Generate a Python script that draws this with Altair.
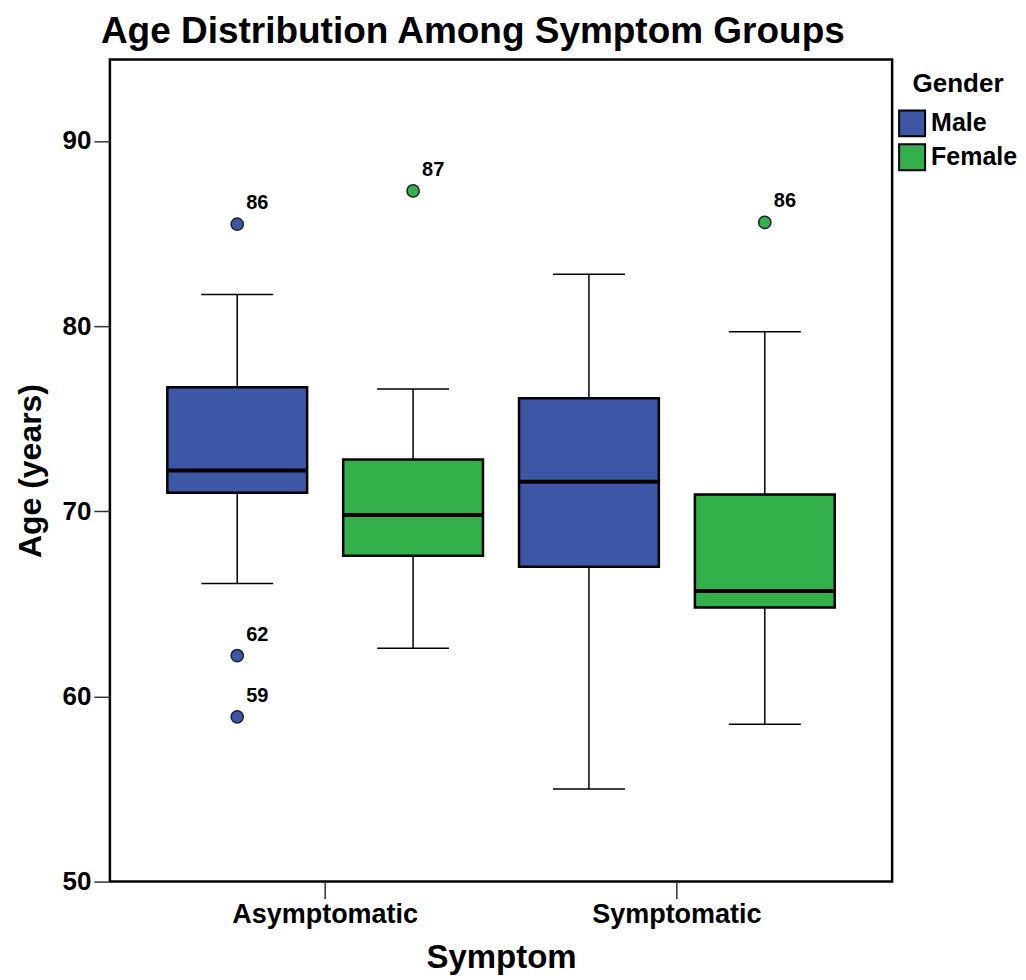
import altair as alt
import pandas as pd

# Box summary per group
symptom = ["Asymptomatic", "Asymptomatic", "Symptomatic", "Symptomatic"]
gender = ["Male", "Female", "Male", "Female"]
whisker_low = [66.1, 62.6, 55.0, 58.5]
q1 = [71.0, 67.6, 67.0, 64.8]
median = [72.2, 69.8, 71.6, 65.7]
q3 = [76.7, 72.8, 76.1, 70.9]
whisker_high = [81.7, 76.6, 82.8, 79.7]

# Outliers
out_symptom = ["Asymptomatic", "Asymptomatic", "Asymptomatic", "Asymptomatic", "Symptomatic"]
out_gender = ["Male", "Male", "Male", "Female", "Female"]
out_age = [85.5, 62.2, 58.9, 87.3, 85.6]
out_label = ["86", "62", "59", "87", "86"]

gender_order = ["Male", "Female"]
gender_colors = ["#3D56A6", "#33B04A"]

boxes = pd.DataFrame({
    "Symptom": symptom, "Gender": gender, "lo": whisker_low, "q1": q1,
    "median": median, "q3": q3, "hi": whisker_high,
})
outs = pd.DataFrame({
    "Symptom": out_symptom, "Gender": out_gender, "age": out_age, "label": out_label,
})

FONT = "Liberation Sans"

x_enc = alt.X(
    "Symptom:N",
    sort=["Asymptomatic", "Symptomatic"],
    scale=alt.Scale(paddingInner=0, paddingOuter=0.112),
    axis=alt.Axis(
        title="Symptom", labelAngle=0, labelFontSize=27, labelFontWeight="bold",
        labelColor="black", titleFontSize=33, titleFontWeight="bold", titleColor="black",
        tickSize=17, tickWidth=1.5, tickColor="#333", labelPadding=3, titlePadding=14,
        domain=False, grid=False, labelFont=FONT, titleFont=FONT, labelLimit=0,
    ),
)
xo_enc = alt.XOffset(
    "Gender:N", sort=gender_order,
    scale=alt.Scale(paddingInner=0.205, paddingOuter=0.1025),
)
y_scale = alt.Scale(domain=[50, 94.4], nice=False, zero=False)
y_axis = alt.Axis(
    title="Age (years)", values=[50, 60, 70, 80, 90], labelFontSize=26,
    labelFontWeight="bold", labelColor="black", titleFontSize=32, titleFontWeight="bold",
    titleColor="black", tickSize=16, tickWidth=1.5, tickColor="#333", labelPadding=3,
    titlePadding=15, domain=False, grid=False, labelFont=FONT, titleFont=FONT,
)
color_scale = alt.Scale(domain=gender_order, range=gender_colors)

base = alt.Chart(boxes)

upper = base.mark_rule(color="black", strokeWidth=1.5).encode(
    x=x_enc, xOffset=xo_enc,
    y=alt.Y("q3:Q", scale=y_scale, axis=y_axis), y2="hi:Q",
)
lower = base.mark_rule(color="black", strokeWidth=1.5).encode(
    x=x_enc, xOffset=xo_enc, y=alt.Y("lo:Q", scale=y_scale), y2="q1:Q",
)
cap_hi = base.mark_tick(color="black", thickness=1.5, size=72, opacity=1).encode(
    x=x_enc, xOffset=xo_enc, y=alt.Y("hi:Q", scale=y_scale),
)
cap_lo = base.mark_tick(color="black", thickness=1.5, size=72, opacity=1).encode(
    x=x_enc, xOffset=xo_enc, y=alt.Y("lo:Q", scale=y_scale),
)
box = base.mark_bar(stroke="black", strokeWidth=2.5, opacity=1).encode(
    x=x_enc, xOffset=xo_enc,
    y=alt.Y("q1:Q", scale=y_scale), y2="q3:Q",
    color=alt.Color(
        "Gender:N", scale=color_scale, sort=gender_order,
        legend=alt.Legend(
            title="Gender", orient="none", legendX=789, legendY=12,
            symbolType="square", symbolSize=676, symbolStrokeColor="black",
            symbolStrokeWidth=2, symbolOpacity=1, labelFontSize=25, labelFontWeight="bold",
            labelColor="black", titleFontSize=26, titleFontWeight="bold", titleColor="black",
            titleAnchor="middle", titlePadding=12, rowPadding=0, labelOffset=5,
            labelFont=FONT, titleFont=FONT,
        ),
    ),
)
med = base.mark_tick(color="black", thickness=4, size=140, opacity=1).encode(
    x=x_enc, xOffset=xo_enc, y=alt.Y("median:Q", scale=y_scale),
)

ochart = alt.Chart(outs)
pts = ochart.mark_circle(size=150, stroke="#1c2233", strokeWidth=1.5, opacity=1).encode(
    x=x_enc, xOffset=xo_enc, y=alt.Y("age:Q", scale=y_scale),
    color=alt.Color("Gender:N", scale=color_scale, legend=None),
)
lbl = ochart.mark_text(
    align="left", baseline="middle", dx=9, dy=-21, fontSize=20,
    fontWeight="bold", font=FONT, color="black",
).encode(
    x=x_enc, xOffset=xo_enc, y=alt.Y("age:Q", scale=y_scale), text="label:N",
)

chart = alt.layer(upper, lower, cap_hi, cap_lo, box, med, pts, lbl).properties(
    width=783, height=823,
    padding={"left": 6, "top": 5, "right": 0, "bottom": 0},
    title=alt.TitleParams(
        "Age Distribution Among Symptom Groups", anchor="start", frame="group",
        dx=-9, fontSize=37, fontWeight="bold", font=FONT, color="black", offset=8,
    ),
).configure_view(stroke="black", strokeWidth=2.5)

chart.save("out.html", embed_options={"renderer": "svg", "actions": False})
